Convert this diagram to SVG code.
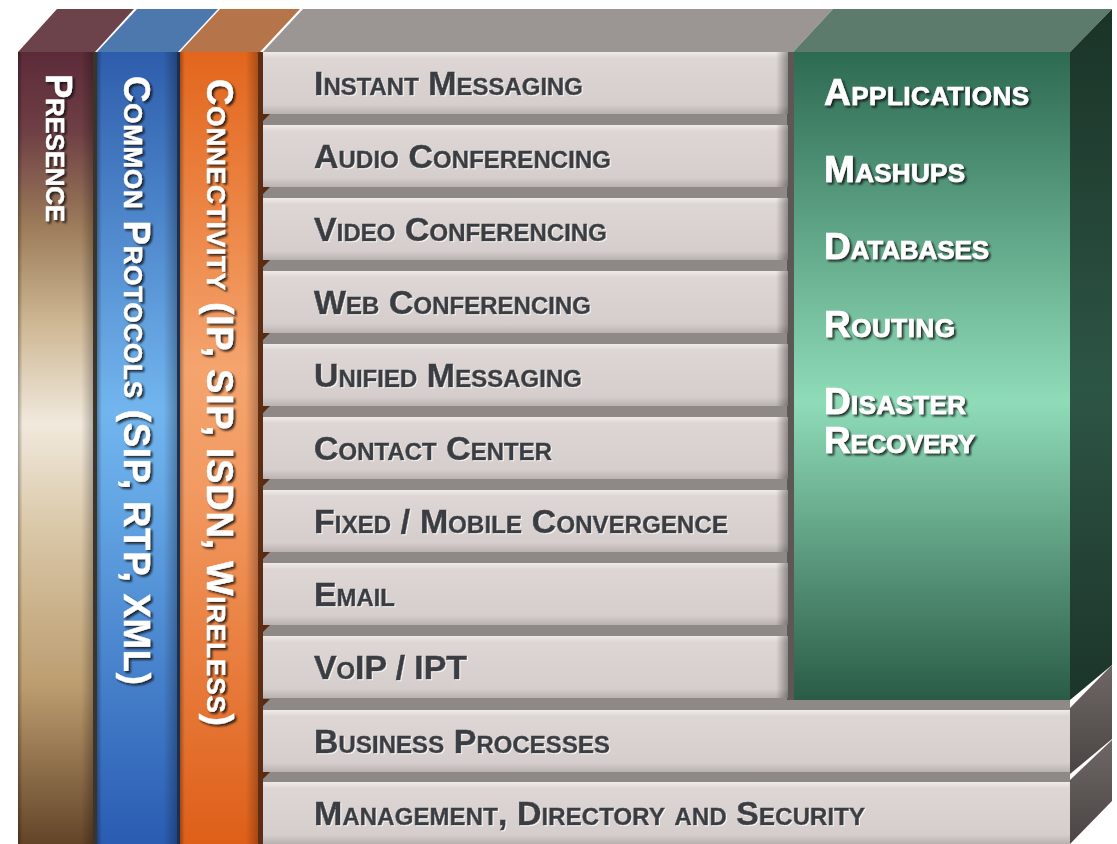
<svg xmlns="http://www.w3.org/2000/svg" width="1117" height="844" viewBox="0 0 1117 844">
<defs>
<linearGradient id="gPres" x1="0" y1="0" x2="0" y2="1">
<stop offset="0" stop-color="#5c2b3a"/>
<stop offset="0.1" stop-color="#6e3f45"/>
<stop offset="0.22" stop-color="#9c7c5a"/>
<stop offset="0.34" stop-color="#cdb692"/>
<stop offset="0.47" stop-color="#f1e9dd"/>
<stop offset="0.6" stop-color="#dac8a8"/>
<stop offset="0.8" stop-color="#bc9d70"/>
<stop offset="1" stop-color="#634428"/>
</linearGradient>
<linearGradient id="gBlue" x1="0" y1="0" x2="0" y2="1">
<stop offset="0" stop-color="#2e5dab"/>
<stop offset="0.45" stop-color="#72b5ee"/>
<stop offset="0.55" stop-color="#66a9e6"/>
<stop offset="1" stop-color="#2a5cb2"/>
</linearGradient>
<linearGradient id="gOrange" x1="0" y1="0" x2="0" y2="1">
<stop offset="0" stop-color="#e2661c"/>
<stop offset="0.4" stop-color="#f5a46e"/>
<stop offset="0.55" stop-color="#f29a62"/>
<stop offset="1" stop-color="#de5f18"/>
</linearGradient>
<linearGradient id="gGreen" x1="0" y1="0" x2="0" y2="1">
<stop offset="0" stop-color="#2d6a52"/>
<stop offset="0.54" stop-color="#8fdcb9"/>
<stop offset="1" stop-color="#2a5b46"/>
</linearGradient>
<linearGradient id="gGreenSide" x1="0" y1="0" x2="0" y2="1">
<stop offset="0" stop-color="#1a3327"/>
<stop offset="0.55" stop-color="#2d5545"/>
<stop offset="1" stop-color="#1c3429"/>
</linearGradient>
<linearGradient id="edge" x1="0" y1="0" x2="1" y2="0">
<stop offset="0" stop-color="#000" stop-opacity="0.3"/>
<stop offset="0.06" stop-color="#000" stop-opacity="0"/>
<stop offset="0.82" stop-color="#000" stop-opacity="0"/>
<stop offset="1" stop-color="#000" stop-opacity="0.3"/>
</linearGradient>
<linearGradient id="gRow" x1="0" y1="0" x2="0" y2="1">
<stop offset="0" stop-color="#efebe9"/>
<stop offset="0.1" stop-color="#ddd6d4"/>
<stop offset="0.85" stop-color="#d5cecc"/>
<stop offset="1" stop-color="#b9b2b0"/>
</linearGradient>
<linearGradient id="gRowEnd" x1="0" y1="0" x2="1" y2="0">
<stop offset="0" stop-color="#000" stop-opacity="0"/>
<stop offset="1" stop-color="#000" stop-opacity="0.35"/>
</linearGradient>
<linearGradient id="gSideGray" x1="0" y1="0" x2="0" y2="1">
<stop offset="0" stop-color="#6e6765"/>
<stop offset="1" stop-color="#4a4543"/>
</linearGradient>
<filter id="shW" x="-10%" y="-10%" width="130%" height="130%">
<feDropShadow dx="2" dy="2" stdDeviation="1" flood-color="#111" flood-opacity="0.85"/>
</filter>
<filter id="shL" x="-5%" y="-10%" width="110%" height="130%">
<feDropShadow dx="1" dy="1" stdDeviation="0.6" flood-color="#fff" flood-opacity="0.8"/>
</filter>
</defs>
<style>
.t{font-family:"Liberation Sans",Arial,sans-serif;font-weight:bold;font-variant:small-caps;}
.row{font-size:34px;fill:#3a3d43;stroke:#3a3d43;stroke-width:0.5px;}
.col{font-size:36.5px;fill:#ffffff;stroke:#ffffff;stroke-width:0.4px;}
.grn{font-size:37px;fill:#ffffff;stroke:#ffffff;stroke-width:0.7px;}
.rowbox{fill:url(#gRow);}
.rowend{fill:url(#gRowEnd);}
.notch{fill:#5a2a10;}
</style>
<rect x="0" y="0" width="1117" height="844" fill="#ffffff"/>

<rect x="258" y="52" width="812" height="792" fill="#8e8987"/>

<polygon points="263,52 303,9 833,9 793,52" fill="#9b9693"/>

<g id="presence">
<polygon points="18,52 57,9 134,9 95,52" fill="#6c434a"/>
<rect x="18" y="52" width="77" height="792" fill="url(#gPres)"/>
<rect x="18" y="52" width="77" height="792" fill="url(#edge)"/>
<rect x="93" y="52" width="4" height="792" fill="#3a342c"/>
<g filter="url(#shW)"><text class="t col" transform="translate(46,74) rotate(90)" textLength="148" lengthAdjust="spacing">Presence</text></g>
</g>

<g id="common-protocols">
<polygon points="97,52 137,9 218,9 178,52" fill="#4d78ae"/>
<rect x="97" y="52" width="81" height="792" fill="url(#gBlue)"/>
<rect x="97" y="52" width="81" height="792" fill="url(#edge)"/>
<rect x="177" y="52" width="3" height="792" fill="#1c2f4e"/>
<g filter="url(#shW)"><text class="t col" transform="translate(124,76) rotate(90)" textLength="609" lengthAdjust="spacing">Common Protocols (SIP, RTP, XML)</text></g>
</g>

<g id="connectivity">
<polygon points="180,52 220,9 300,9 260,52" fill="#b6744a"/>
<rect x="180" y="52" width="80" height="792" fill="url(#gOrange)"/>
<rect x="180" y="52" width="80" height="792" fill="url(#edge)"/>
<rect x="258" y="52" width="5" height="792" fill="#5e2c12"/>
<g filter="url(#shW)"><text class="t col" transform="translate(207,79) rotate(90)" textLength="647" lengthAdjust="spacing">Connectivity (IP, SIP, ISDN, Wireless)</text></g>
</g>

<g id="green-block">
<polygon points="793,52 833,9 1112,9 1070,52" fill="#5d7b6d"/>
<polygon points="1070,52 1112,9 1112,665 1070,700" fill="url(#gGreenSide)"/>
<rect x="793" y="52" width="277" height="648" fill="url(#gGreen)"/>
<rect x="787" y="52" width="7" height="648" fill="#5d5755"/>
<g filter="url(#shW)">
<text class="t grn" x="824" y="105" textLength="205" lengthAdjust="spacing">Applications</text>
<text class="t grn" x="824" y="182" textLength="141" lengthAdjust="spacing">Mashups</text>
<text class="t grn" x="824" y="259" textLength="165" lengthAdjust="spacing">Databases</text>
<text class="t grn" x="824" y="337" textLength="131" lengthAdjust="spacing">Routing</text>
<text class="t grn" x="824" y="414" textLength="142" lengthAdjust="spacing">Disaster</text>
<text class="t grn" x="824" y="453" textLength="151" lengthAdjust="spacing">Recovery</text>
</g>
</g>

<g id="row-instant-messaging">
<rect class="rowbox" x="263" y="52" width="525" height="62"/>
<rect class="rowend" x="776" y="52" width="12" height="62"/>
<text class="t row" x="314" y="95" textLength="269" lengthAdjust="spacing" filter="url(#shL)">Instant Messaging</text>
</g>
<g id="row-audio-conferencing">
<rect class="rowbox" x="263" y="125" width="525" height="62"/>
<rect class="rowend" x="776" y="125" width="12" height="62"/>
<polygon class="notch" points="263,114 270,114 263,121"/>
<text class="t row" x="314" y="168" textLength="297" lengthAdjust="spacing" filter="url(#shL)">Audio Conferencing</text>
</g>
<g id="row-video-conferencing">
<rect class="rowbox" x="263" y="198" width="525" height="62"/>
<rect class="rowend" x="776" y="198" width="12" height="62"/>
<polygon class="notch" points="263,187 270,187 263,194"/>
<text class="t row" x="314" y="241" textLength="293" lengthAdjust="spacing" filter="url(#shL)">Video Conferencing</text>
</g>
<g id="row-web-conferencing">
<rect class="rowbox" x="263" y="271" width="525" height="62"/>
<rect class="rowend" x="776" y="271" width="12" height="62"/>
<polygon class="notch" points="263,260 270,260 263,267"/>
<text class="t row" x="314" y="314" textLength="277" lengthAdjust="spacing" filter="url(#shL)">Web Conferencing</text>
</g>
<g id="row-unified-messaging">
<rect class="rowbox" x="263" y="344" width="525" height="62"/>
<rect class="rowend" x="776" y="344" width="12" height="62"/>
<polygon class="notch" points="263,333 270,333 263,340"/>
<text class="t row" x="314" y="387" textLength="268" lengthAdjust="spacing" filter="url(#shL)">Unified Messaging</text>
</g>
<g id="row-contact-center">
<rect class="rowbox" x="263" y="417" width="525" height="62"/>
<rect class="rowend" x="776" y="417" width="12" height="62"/>
<polygon class="notch" points="263,406 270,406 263,413"/>
<text class="t row" x="314" y="460" textLength="238" lengthAdjust="spacing" filter="url(#shL)">Contact Center</text>
</g>
<g id="row-fixed-mobile-convergence">
<rect class="rowbox" x="263" y="490" width="525" height="62"/>
<rect class="rowend" x="776" y="490" width="12" height="62"/>
<polygon class="notch" points="263,479 270,479 263,486"/>
<text class="t row" x="314" y="533" textLength="414" lengthAdjust="spacing" filter="url(#shL)">Fixed / Mobile Convergence</text>
</g>
<g id="row-email">
<rect class="rowbox" x="263" y="563" width="525" height="62"/>
<rect class="rowend" x="776" y="563" width="12" height="62"/>
<polygon class="notch" points="263,552 270,552 263,559"/>
<text class="t row" x="314" y="606" textLength="81" lengthAdjust="spacing" filter="url(#shL)">Email</text>
</g>
<g id="row-voip-ipt">
<rect class="rowbox" x="263" y="636" width="525" height="62"/>
<rect class="rowend" x="776" y="636" width="12" height="62"/>
<polygon class="notch" points="263,625 270,625 263,632"/>
<text class="t row" x="314" y="679" textLength="153" lengthAdjust="spacing" filter="url(#shL)">VoIP / IPT</text>
</g>

<g id="business-processes">
<polygon points="1070,708 1112,665 1112,739 1070,774" fill="url(#gSideGray)"/>
<rect class="rowbox" x="263" y="710" width="807" height="62"/>
<polygon class="notch" points="263,699 270,699 263,706"/>
<text class="t row" x="314" y="753" textLength="296" lengthAdjust="spacing" filter="url(#shL)">Business Processes</text>
</g>

<g id="management-directory-security">
<polygon points="1070,780 1112,740 1112,801 1070,844" fill="url(#gSideGray)"/>
<rect class="rowbox" x="263" y="782" width="807" height="62"/>
<polygon class="notch" points="263,772 270,772 263,779"/>
<text class="t row" x="314" y="825" textLength="551" lengthAdjust="spacing" filter="url(#shL)">Management, Directory and Security</text>
</g>

<g id="connectors"></g>
</svg>
